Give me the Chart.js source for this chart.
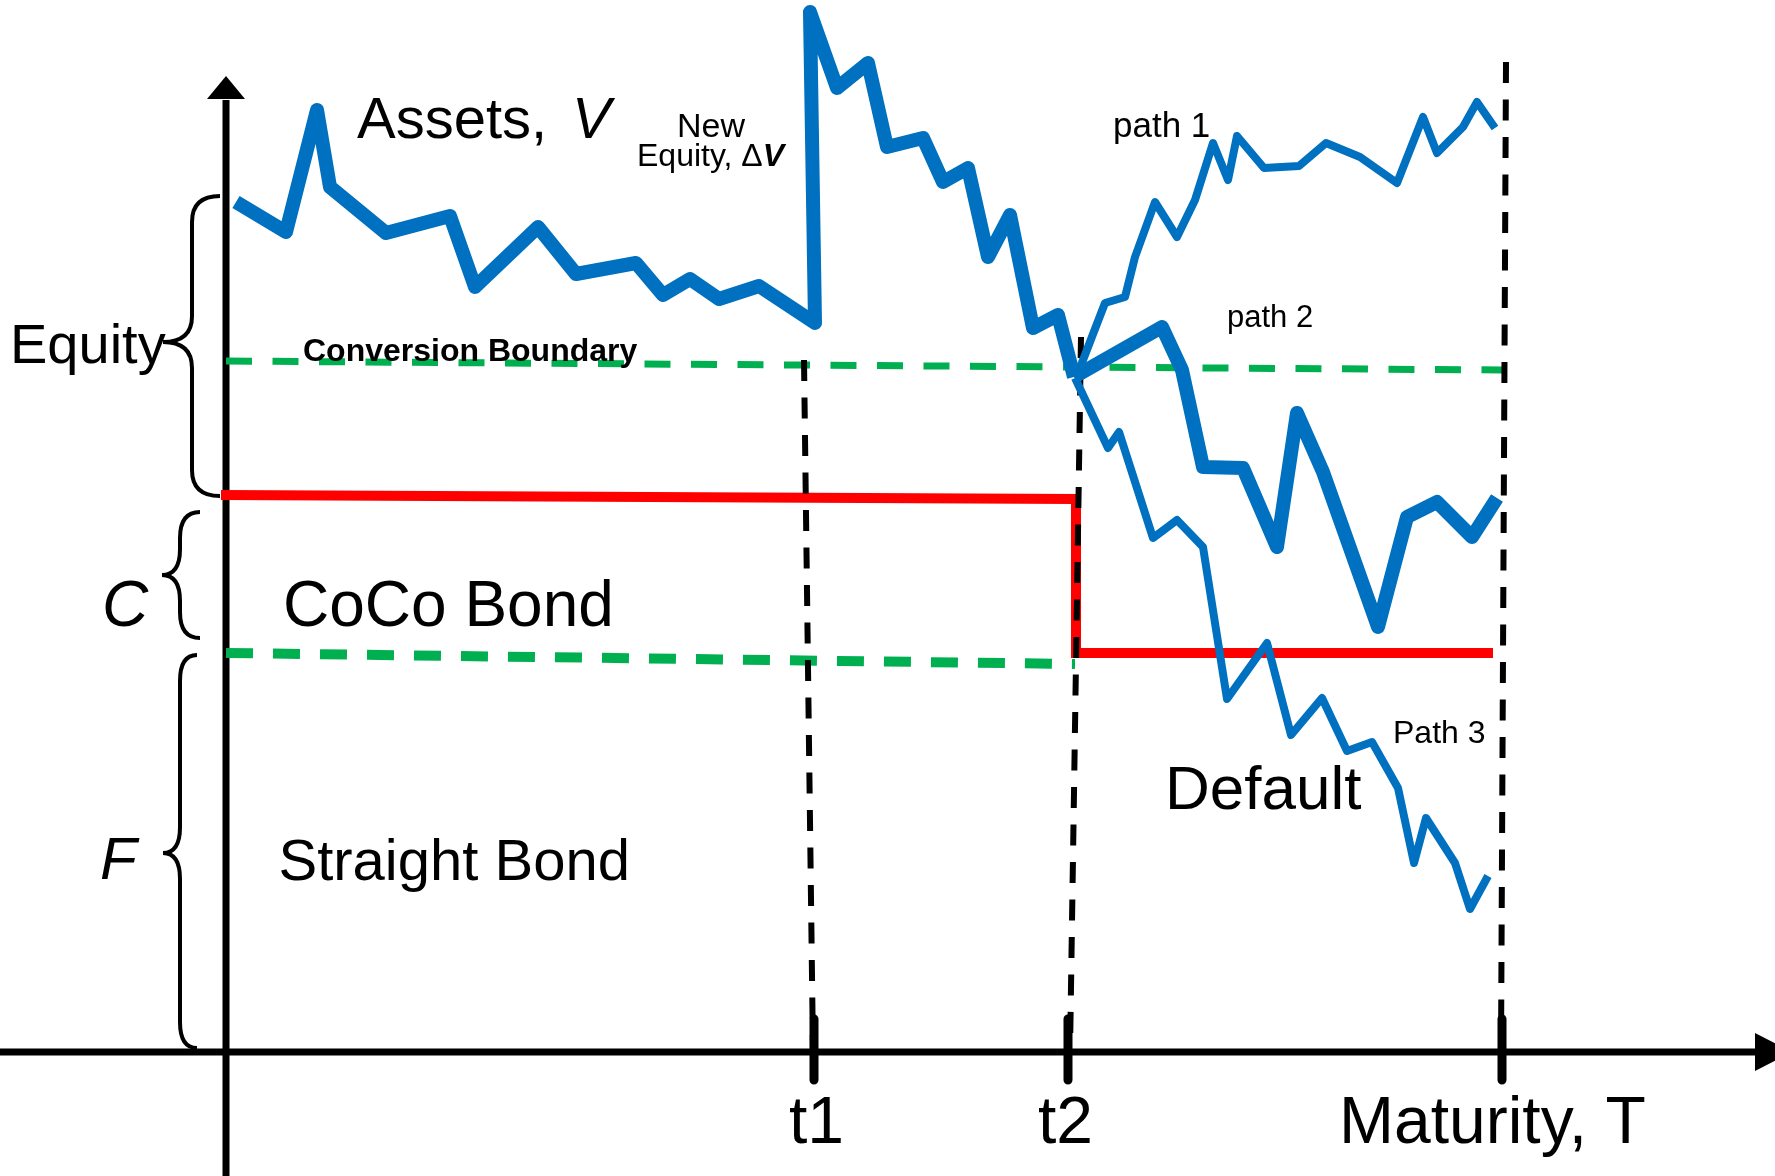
<!DOCTYPE html>
<html>
<head>
<meta charset="utf-8">
<script src="https://cdn.jsdelivr.net/npm/chart.js@4.4.1/dist/chart.umd.min.js"></script>
<style>
html, body { margin: 0; padding: 0; background: #fff; }
canvas { display: block; }
</style>
</head>
<body>
<canvas id="cocoChart" width="1775" height="1176"></canvas>
<script>
// time runs along x (origin at the value axis), firm value along y (time axis at 0)
var assetT = [1.0, 6.0, 9.1, 10.4, 16.0, 22.4, 24.9, 31.2, 35.0, 41.0, 43.7, 46.4, 49.3, 53.3, 58.9, 58.4, 61.1, 64.2, 66.1, 69.7, 71.7, 74.2, 76.2, 78.4, 80.7, 83.2, 84.8];
var assetV = [85.0, 82.0, 94.2, 86.5, 81.9, 83.6, 76.5, 82.5, 77.8, 78.9, 75.7, 77.3, 75.3, 76.6, 72.9, 104.0, 96.4, 98.9, 90.5, 91.4, 87.0, 88.4, 79.5, 83.7, 72.4, 73.7, 67.5];

var path1T = [85.2, 87.9, 89.9, 90.9, 92.9, 95.1, 96.9, 98.7, 100.2, 101.1, 103.8, 107.3, 110.0, 113.4, 117.1, 119.7, 121.1, 123.7, 125.1, 126.9];
var path1V = [67.9, 74.9, 75.5, 79.5, 85.0, 81.5, 85.2, 90.9, 87.2, 91.6, 88.4, 88.6, 90.9, 89.5, 86.9, 93.5, 89.9, 92.5, 95.0, 92.4];

var path2T = [84.8, 93.6, 95.6, 97.7, 101.7, 105.1, 107.1, 109.7, 115.2, 118.1, 121.1, 124.6, 127.1];
var path2V = [67.5, 72.5, 68.2, 58.5, 58.4, 50.5, 63.9, 58.0, 42.5, 53.5, 55.0, 51.5, 55.4];

var path3T = [84.9, 88.2, 89.3, 92.7, 95.1, 97.7, 100.1, 104.1, 106.5, 109.6, 112.1, 114.6, 117.2, 118.8, 120.0, 122.9, 124.4, 126.2];
var path3V = [67.4, 60.4, 62.0, 51.4, 53.2, 50.5, 35.3, 40.9, 31.7, 35.4, 30.1, 31.0, 26.4, 18.9, 23.4, 18.9, 14.3, 17.6];

// conversion boundary, default boundary and CoCo face value
var conversionT = [0, 127.6];
var conversionV = [69.1, 68.2];
var defaultT = [0, 84.9];
var defaultV = [39.9, 38.8];
var cocoT = [-0.5, 85.0, 85.0, 126.7];
var cocoV = [55.7, 55.3, 39.9, 39.9];

// event times and their labels
var tickTimes = [58.8, 84.2, 127.6];
var tickLabels = ['t1', 't2', 'Maturity, T'];
var guideTopT = [57.8, 85.5, 128.0];
var guideTopV = [69.2, 71.5, 99.0];
var guideBottomT = [58.7, 84.4, 127.5];

function pts(xs, ys) {
  return xs.map(function (x, i) { return { x: x, y: ys[i] }; });
}

var FONT = '"Liberation Sans", Arial, sans-serif';
var BLUE = '#0070C0';
var GREEN = '#00B050';

var datasets = [];
// green dashed boundaries
datasets.push({ data: pts(conversionT, conversionV), borderColor: GREEN, borderWidth: 7, borderDash: [26, 20.5], order: 4 });
datasets.push({ data: pts(defaultT, defaultV), borderColor: GREEN, borderWidth: 10, borderDash: [27, 20], order: 4 });
// red CoCo line
datasets.push({ data: pts(cocoT, cocoV), borderColor: '#FF0000', borderWidth: 10, order: 3, borderJoinStyle: 'miter' });
// black dashed guides and tick marks
for (var i = 0; i < tickTimes.length; i++) {
  datasets.push({ data: [{ x: guideTopT[i], y: guideTopV[i] }, { x: guideBottomT[i], y: 0 }], borderColor: '#000', borderWidth: 6, borderDash: [21, 16.5], order: 2 });
  datasets.push({ data: [{ x: tickTimes[i], y: 3.3 }, { x: tickTimes[i], y: -2.8 }], borderColor: '#000', borderWidth: 9, order: 2 });
}
// asset paths
datasets.push({ data: pts(assetT, assetV), borderColor: BLUE, borderWidth: 14, order: 1 });
datasets.push({ data: pts(path2T, path2V), borderColor: BLUE, borderWidth: 14, order: 1 });
datasets.push({ data: pts(path1T, path1V), borderColor: BLUE, borderWidth: 8, order: 1 });
datasets.push({ data: pts(path3T, path3V), borderColor: BLUE, borderWidth: 8, order: 1 });

var braces = [
  { top: 85.6, mid: 71.0, bottom: 55.6, tip: -0.6, stem: -3.4, point: -6.3 },
  { top: 54.0, mid: 47.7, bottom: 41.4, tip: -2.6, stem: -4.6, point: -6.4 },
  { top: 39.7, mid: 19.9, bottom: 0.4, tip: -2.9, stem: -4.6, point: -6.3 }
];

var labels = [
  { x: -21.6, y: 68.9, parts: [['Equity', '56px ' + FONT]] },
  { x: -12.4, y: 42.6, parts: [['C', 'italic 64px ' + FONT]] },
  { x: -12.6, y: 17.3, parts: [['F', 'italic 60px ' + FONT]] },
  { x: 13.1, y: 91.4, parts: [['Assets,', '58px ' + FONT]] },
  { x: 34.6, y: 91.4, parts: [['V', 'italic 58px ' + FONT]] },
  { x: 48.5, y: 91.5, align: 'center', parts: [['New', '34px ' + FONT]] },
  { x: 41.1, y: 88.6, parts: [['Equity, \u0394', '32px ' + FONT], ['V', 'italic bold 32px ' + FONT]] },
  { x: 7.7, y: 69.1, parts: [['Conversion Boundary', 'bold 32px ' + FONT]] },
  { x: 88.7, y: 91.5, parts: [['path 1', '35px ' + FONT]] },
  { x: 100.1, y: 72.5, parts: [['path 2', '31px ' + FONT]] },
  { x: 116.7, y: 30.9, parts: [['Path 3', '32px ' + FONT]] },
  { x: 93.9, y: 24.3, parts: [['Default', '62px ' + FONT]] },
  { x: 5.7, y: 42.6, parts: [['CoCo Bond', '64px ' + FONT]] },
  { x: 5.25, y: 17.2, parts: [['Straight Bond', '58px ' + FONT]] },
  { x: 56.3, y: -9.1, parts: [[tickLabels[0], '66px ' + FONT]] },
  { x: 81.2, y: -9.1, parts: [[tickLabels[1], '66px ' + FONT]] },
  { x: 111.3, y: -9.1, parts: [[tickLabels[2], '66px ' + FONT]] }
];

var whiteBg = {
  id: 'whiteBg',
  beforeDraw: function (chart) {
    var c = chart.ctx;
    c.save();
    c.fillStyle = '#fff';
    c.fillRect(0, 0, chart.width, chart.height);
    c.restore();
  }
};

var axesPlugin = {
  id: 'axesPlugin',
  beforeDatasetsDraw: function (chart) {
    var c = chart.ctx, xs = chart.scales.x, ys = chart.scales.y;
    var x0 = xs.getPixelForValue(0), y0 = ys.getPixelForValue(0);
    var yTip = ys.getPixelForValue(97.6), yBase = ys.getPixelForValue(95.3);
    var xBase = xs.getPixelForValue(152.9), xTip = xs.getPixelForValue(156.6);
    c.save();
    c.strokeStyle = '#000';
    c.fillStyle = '#000';
    c.lineWidth = 7;
    c.beginPath();
    c.moveTo(x0, ys.getPixelForValue(ys.min));
    c.lineTo(x0, yBase + 1);
    c.moveTo(xs.getPixelForValue(xs.min), y0);
    c.lineTo(xBase + 1, y0);
    c.stroke();
    c.beginPath();
    c.moveTo(x0, yTip);
    c.lineTo(x0 - 19, yBase);
    c.lineTo(x0 + 19, yBase);
    c.closePath();
    c.fill();
    c.beginPath();
    c.moveTo(xTip, y0);
    c.lineTo(xBase, y0 - 19);
    c.lineTo(xBase, y0 + 19);
    c.closePath();
    c.fill();
    c.restore();
  }
};

var notesPlugin = {
  id: 'notesPlugin',
  afterDatasetsDraw: function (chart) {
    var c = chart.ctx, xs = chart.scales.x, ys = chart.scales.y;
    c.save();
    c.strokeStyle = '#000';
    c.lineWidth = 4;
    braces.forEach(function (b) {
      var top = ys.getPixelForValue(b.top), mid = ys.getPixelForValue(b.mid), bot = ys.getPixelForValue(b.bottom);
      var tip = xs.getPixelForValue(b.tip), stem = xs.getPixelForValue(b.stem), pt = xs.getPixelForValue(b.point);
      var r = Math.min(26, (bot - top) / 4);
      c.beginPath();
      c.moveTo(tip, top);
      c.quadraticCurveTo(stem, top, stem, top + r);
      c.lineTo(stem, mid - r);
      c.quadraticCurveTo(stem, mid, pt, mid);
      c.quadraticCurveTo(stem, mid, stem, mid + r);
      c.lineTo(stem, bot - r);
      c.quadraticCurveTo(stem, bot, tip, bot);
      c.stroke();
    });
    c.fillStyle = '#000';
    c.textBaseline = 'alphabetic';
    labels.forEach(function (l) {
      var px = xs.getPixelForValue(l.x), py = ys.getPixelForValue(l.y);
      var total = 0;
      l.parts.forEach(function (p) { c.font = p[1]; total += c.measureText(p[0]).width; });
      if (l.align === 'center') px -= total / 2;
      c.textAlign = 'left';
      l.parts.forEach(function (p) {
        c.font = p[1];
        c.fillText(p[0], px, py);
        px += c.measureText(p[0]).width;
      });
    });
    c.restore();
  }
};

var ctx = document.getElementById('cocoChart').getContext('2d');
var myChart = new Chart(ctx, {
  type: 'line',
  data: { datasets: datasets },
  options: {
    responsive: false,
    animation: false,
    layout: { padding: 0 },
    elements: {
      point: { radius: 0, hoverRadius: 0 },
      line: { tension: 0, fill: false, borderJoinStyle: 'round', borderCapStyle: 'butt' }
    },
    scales: {
      x: { type: 'linear', min: -22.6, max: 154.9, display: false },
      y: { type: 'linear', min: -12.4, max: 105.2, display: false }
    },
    plugins: { legend: { display: false }, tooltip: { enabled: false } }
  },
  plugins: [whiteBg, axesPlugin, notesPlugin]
});
</script>
</body>
</html>
